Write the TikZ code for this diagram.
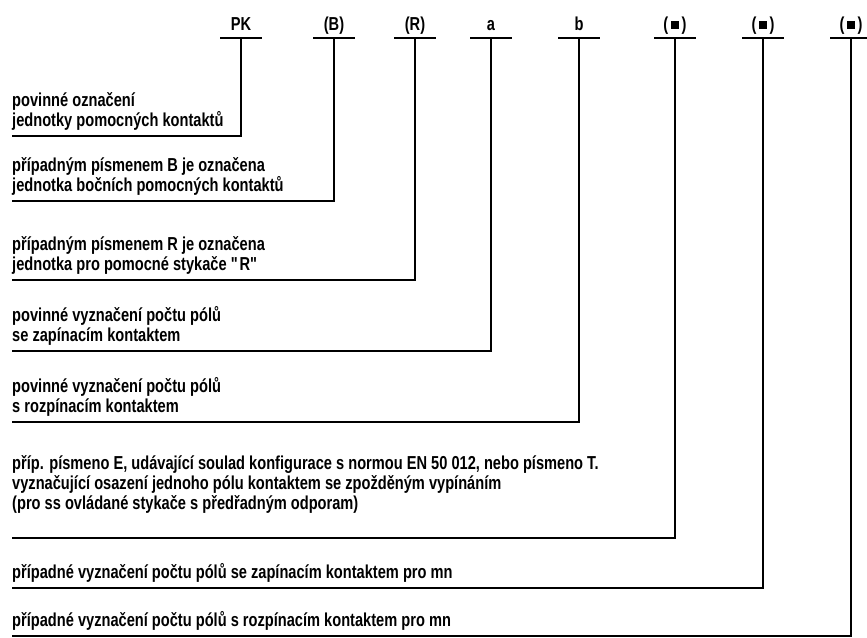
\documentclass[tikz,border=0pt]{standalone}
\usepackage{fontspec}
\setmainfont{Liberation Sans}[FakeStretch=0.78]
\usetikzlibrary{positioning}

\newcommand{\blk}{\rule[0.5pt]{6pt}{7pt}}

\begin{document}
\begin{tikzpicture}[x=0.03cm,y=-0.03cm]
\tikzstyle{every node}=[font=\bfseries\fontsize{16}{17}\selectfont]
\tikzstyle{tag}=[anchor=base, inner sep=0pt]
\tikzstyle{desc}=[align=left, inner sep=0pt]
\tikzstyle{lead}=[line width=2.3pt]

\useasboundingbox (0,0) rectangle (867,637);

% code letters with their T bars
\foreach \x/\lbl/\n in {241/PK/pk,334/(B)/b,415/(R)/r,491/a/za,579/b/ro,
                        675/(\,\blk\,)/et,763/(\,\blk\,)/zmn,851/(\,\blk\,)/rmn} {
  \coordinate (\n) at (\x,38);
  \node[tag] (\n-tag) at ([yshift=6.8pt]\n) {\lbl};
  \draw[lead] ([xshift=-0.62cm]\n) -- ([xshift=0.62cm]\n);
}

\coordinate (e1) at (12,136);
\coordinate (e2) at (12,201);
\coordinate (e3) at (12,280);
\coordinate (e4) at (12,351);
\coordinate (e5) at (12,422);
\coordinate (e6) at (12,538);
\coordinate (e7) at (12,588);
\coordinate (e8) at (12,636);

\node[desc, above right=5pt and 0pt of e1] (d1) {povinné označení\\jednotky pomocných kontaktů};
\node[desc, above right=5pt and 0pt of e2] (d2) {případným písmenem B je označena\\jednotka bočních pomocných kontaktů};
\node[desc, above right=5pt and 0pt of e3] (d3) {případným písmenem R je označena\\jednotka pro pomocné stykače \textquotedbl R\textquotedbl};
\node[desc, above right=5pt and 0pt of e4] (d4) {povinné vyznačení počtu pólů\\se zapínacím kontaktem};
\node[desc, above right=5pt and 0pt of e5] (d5) {povinné vyznačení počtu pólů\\s rozpínacím kontaktem};
\node[desc, above right=21pt and 0pt of e6] (d6) {příp. písmeno E, udávající soulad konfigurace s normou EN 50 012, nebo písmeno T.\\vyznačující osazení jednoho pólu kontaktem se zpožděným vypínáním\\(pro ss ovládané stykače s předřadným odporam)};
\node[desc, above right=5pt and 0pt of e7] (d7) {případné vyznačení počtu pólů se zapínacím kontaktem pro mn};
\node[desc, above right=5pt and 0pt of e8] (d8) {případné vyznačení počtu pólů s rozpínacím kontaktem pro mn};

\draw[lead] (e1) -| (pk);
\draw[lead] (e2) -| (b);
\draw[lead] (e3) -| (r);
\draw[lead] (e4) -| (za);
\draw[lead] (e5) -| (ro);
\draw[lead] (e6) -| (et);
\draw[lead] (e7) -| (zmn);
\draw[lead] (e8) -| (rmn);
\end{tikzpicture}
\end{document}
